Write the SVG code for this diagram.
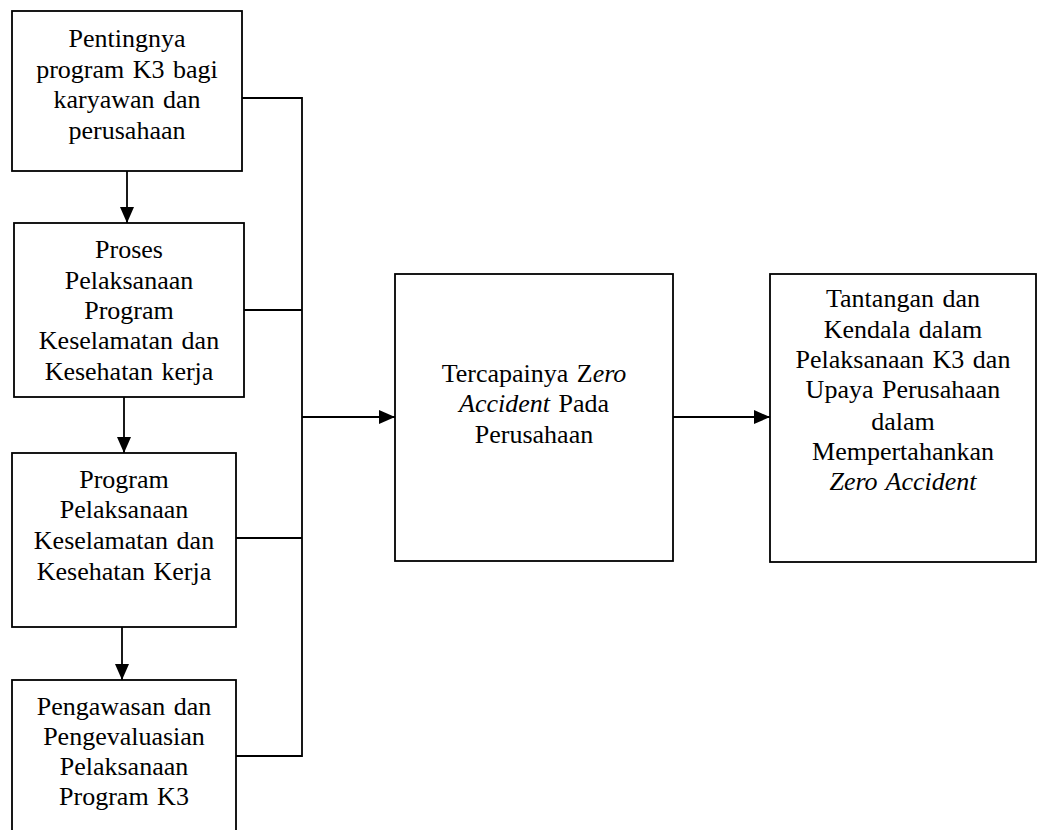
<svg xmlns="http://www.w3.org/2000/svg" width="1038" height="830" viewBox="0 0 1038 830">
<defs>
<marker id="ah" markerUnits="userSpaceOnUse" markerWidth="16" markerHeight="14" refX="16" refY="7" orient="auto">
<path d="M0,0 L16,7 L0,14 Z" fill="#000"/>
</marker>
<style>
rect.b{fill:#fff;stroke:#000;stroke-width:1.8}
text{font-family:"Liberation Serif","Times New Roman",serif;font-size:26px;word-spacing:2px;fill:#000;text-anchor:middle}
.i{font-style:italic}
line,path.c{stroke:#000;stroke-width:1.8;fill:none}
</style>
</defs>
<rect width="1038" height="830" fill="#fff"/>
<g id="connectors">
<line x1="127" y1="171" x2="127" y2="223" marker-end="url(#ah)"/>
<line x1="124" y1="397" x2="124" y2="453" marker-end="url(#ah)"/>
<line x1="122" y1="627" x2="122" y2="680" marker-end="url(#ah)"/>
<path class="c" d="M242,98 H302 V756 H236"/>
<line x1="244" y1="310" x2="302" y2="310"/>
<line x1="236" y1="538" x2="302" y2="538"/>
<line x1="302" y1="417" x2="395" y2="417" marker-end="url(#ah)"/>
<line x1="673" y1="417" x2="770" y2="417" marker-end="url(#ah)"/>
</g>
<g id="n1">
<rect class="b" x="12" y="11" width="230" height="160"/>
<text x="127" y="47">Pentingnya</text>
<text x="127" y="78">program K3 bagi</text>
<text x="127" y="108">karyawan dan</text>
<text x="127" y="139">perusahaan</text>
</g>
<g id="n2">
<rect class="b" x="14" y="223" width="230" height="174"/>
<text x="129" y="258">Proses</text>
<text x="129" y="289">Pelaksanaan</text>
<text x="129" y="319">Program</text>
<text x="129" y="349">Keselamatan dan</text>
<text x="129" y="380">Kesehatan kerja</text>
</g>
<g id="n3">
<rect class="b" x="12" y="453" width="224" height="174"/>
<text x="124" y="488">Program</text>
<text x="124" y="518">Pelaksanaan</text>
<text x="124" y="549">Keselamatan dan</text>
<text x="124" y="580">Kesehatan Kerja</text>
</g>
<g id="n4">
<rect class="b" x="12" y="680" width="224" height="160"/>
<text x="124" y="715">Pengawasan dan</text>
<text x="124" y="745">Pengevaluasian</text>
<text x="124" y="775">Pelaksanaan</text>
<text x="124" y="805">Program K3</text>
</g>
<g id="n5">
<rect class="b" x="395" y="274" width="278" height="287"/>
<text x="534" y="382">Tercapainya Z<tspan class="i">ero</tspan></text>
<text x="534" y="412"><tspan class="i">Accident</tspan> Pada</text>
<text x="534" y="443">Perusahaan</text>
</g>
<g id="n6">
<rect class="b" x="770" y="274" width="266" height="288"/>
<text x="903" y="307">Tantangan dan</text>
<text x="903" y="338">Kendala dalam</text>
<text x="903" y="368">Pelaksanaan K3 dan</text>
<text x="903" y="398">Upaya Perusahaan</text>
<text x="903" y="430">dalam</text>
<text x="903" y="460">Mempertahankan</text>
<text x="903" y="490" class="i">Zero Accident</text>
</g>
</svg>
